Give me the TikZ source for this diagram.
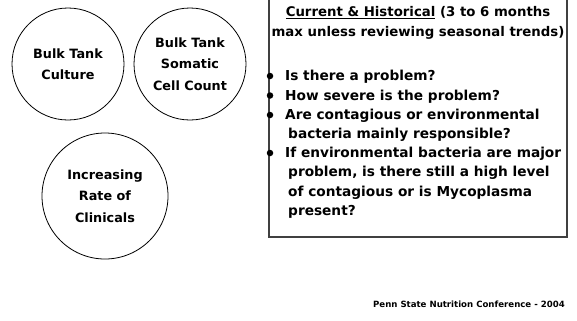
\documentclass[tikz,border=0pt]{standalone}
\usepackage{fontspec}
\setmainfont{DejaVu Sans}
\begin{document}
\begin{tikzpicture}[x=1bp,y=-1bp,
  bubble/.style={draw=black,line width=0.8bp,circle,inner sep=0pt,align=center,
    font=\fontsize{12.8bp}{21.5bp}\selectfont\bfseries},
  headtxt/.style={anchor=mid,inner sep=0pt,font=\fontsize{13.3bp}{16bp}\selectfont\bfseries},
  itemtxt/.style={anchor=mid west,inner sep=0pt,font=\fontsize{13.7bp}{16bp}\selectfont\bfseries},
  dot/.style={circle,fill=black,inner sep=0pt,minimum size=6.5bp},
  foot/.style={anchor=mid east,inner sep=0pt,font=\fontsize{8.6bp}{10bp}\selectfont\bfseries}]
\useasboundingbox (0,0) rectangle (577,320);
\fill[white] (0,0) rectangle (577,320);
% circles
\node[bubble,minimum size=112bp] (c1) at (68,64) {Bulk Tank\\Culture};
\node[bubble,minimum size=112bp] (c2) at (190,64) {Bulk Tank\\Somatic\\Cell Count};
\node[bubble,minimum size=126bp] (c3) at (105,196) {Increasing\\Rate of\\Clinicals};
% box
\coordinate (bl) at (269,237);
\coordinate (tl) at (269,0);
\coordinate (tr) at (567,0);
\draw[line width=1.2bp,draw=black!75] (tl) -- (bl) -| (tr);
% header
\node[headtxt] (h1) at (418,13.5) {\underline{Current \& Historical} (3 to 6 months};
\node[headtxt] (h2) at (418,34) {max unless reviewing seasonal trends)};
% bullets
\node[dot] (d1) at (270,76) {};
\node[dot] (d2) at (270,95.5) {};
\node[dot] (d3) at (270,115) {};
\node[dot] (d4) at (270,153) {};
\node[itemtxt] (l1) at (285,78) {Is there a problem?};
\node[itemtxt] (l2) at (285,97.5) {How severe is the problem?};
\node[itemtxt] (l3) at (285,117) {Are contagious or environmental};
\node[itemtxt] (l4) at (288,136) {bacteria mainly responsible?};
\node[itemtxt] (l5) at (285,155) {If environmental bacteria are major};
\node[itemtxt] (l6) at (288,174) {problem, is there still a high level};
\node[itemtxt] (l7) at (288,193.5) {of contagious or is Mycoplasma};
\node[itemtxt] (l8) at (288,212.5) {present?};
% footer
\node[foot] (f) at (565,305) {Penn State Nutrition Conference - 2004};
\end{tikzpicture}
\end{document}
